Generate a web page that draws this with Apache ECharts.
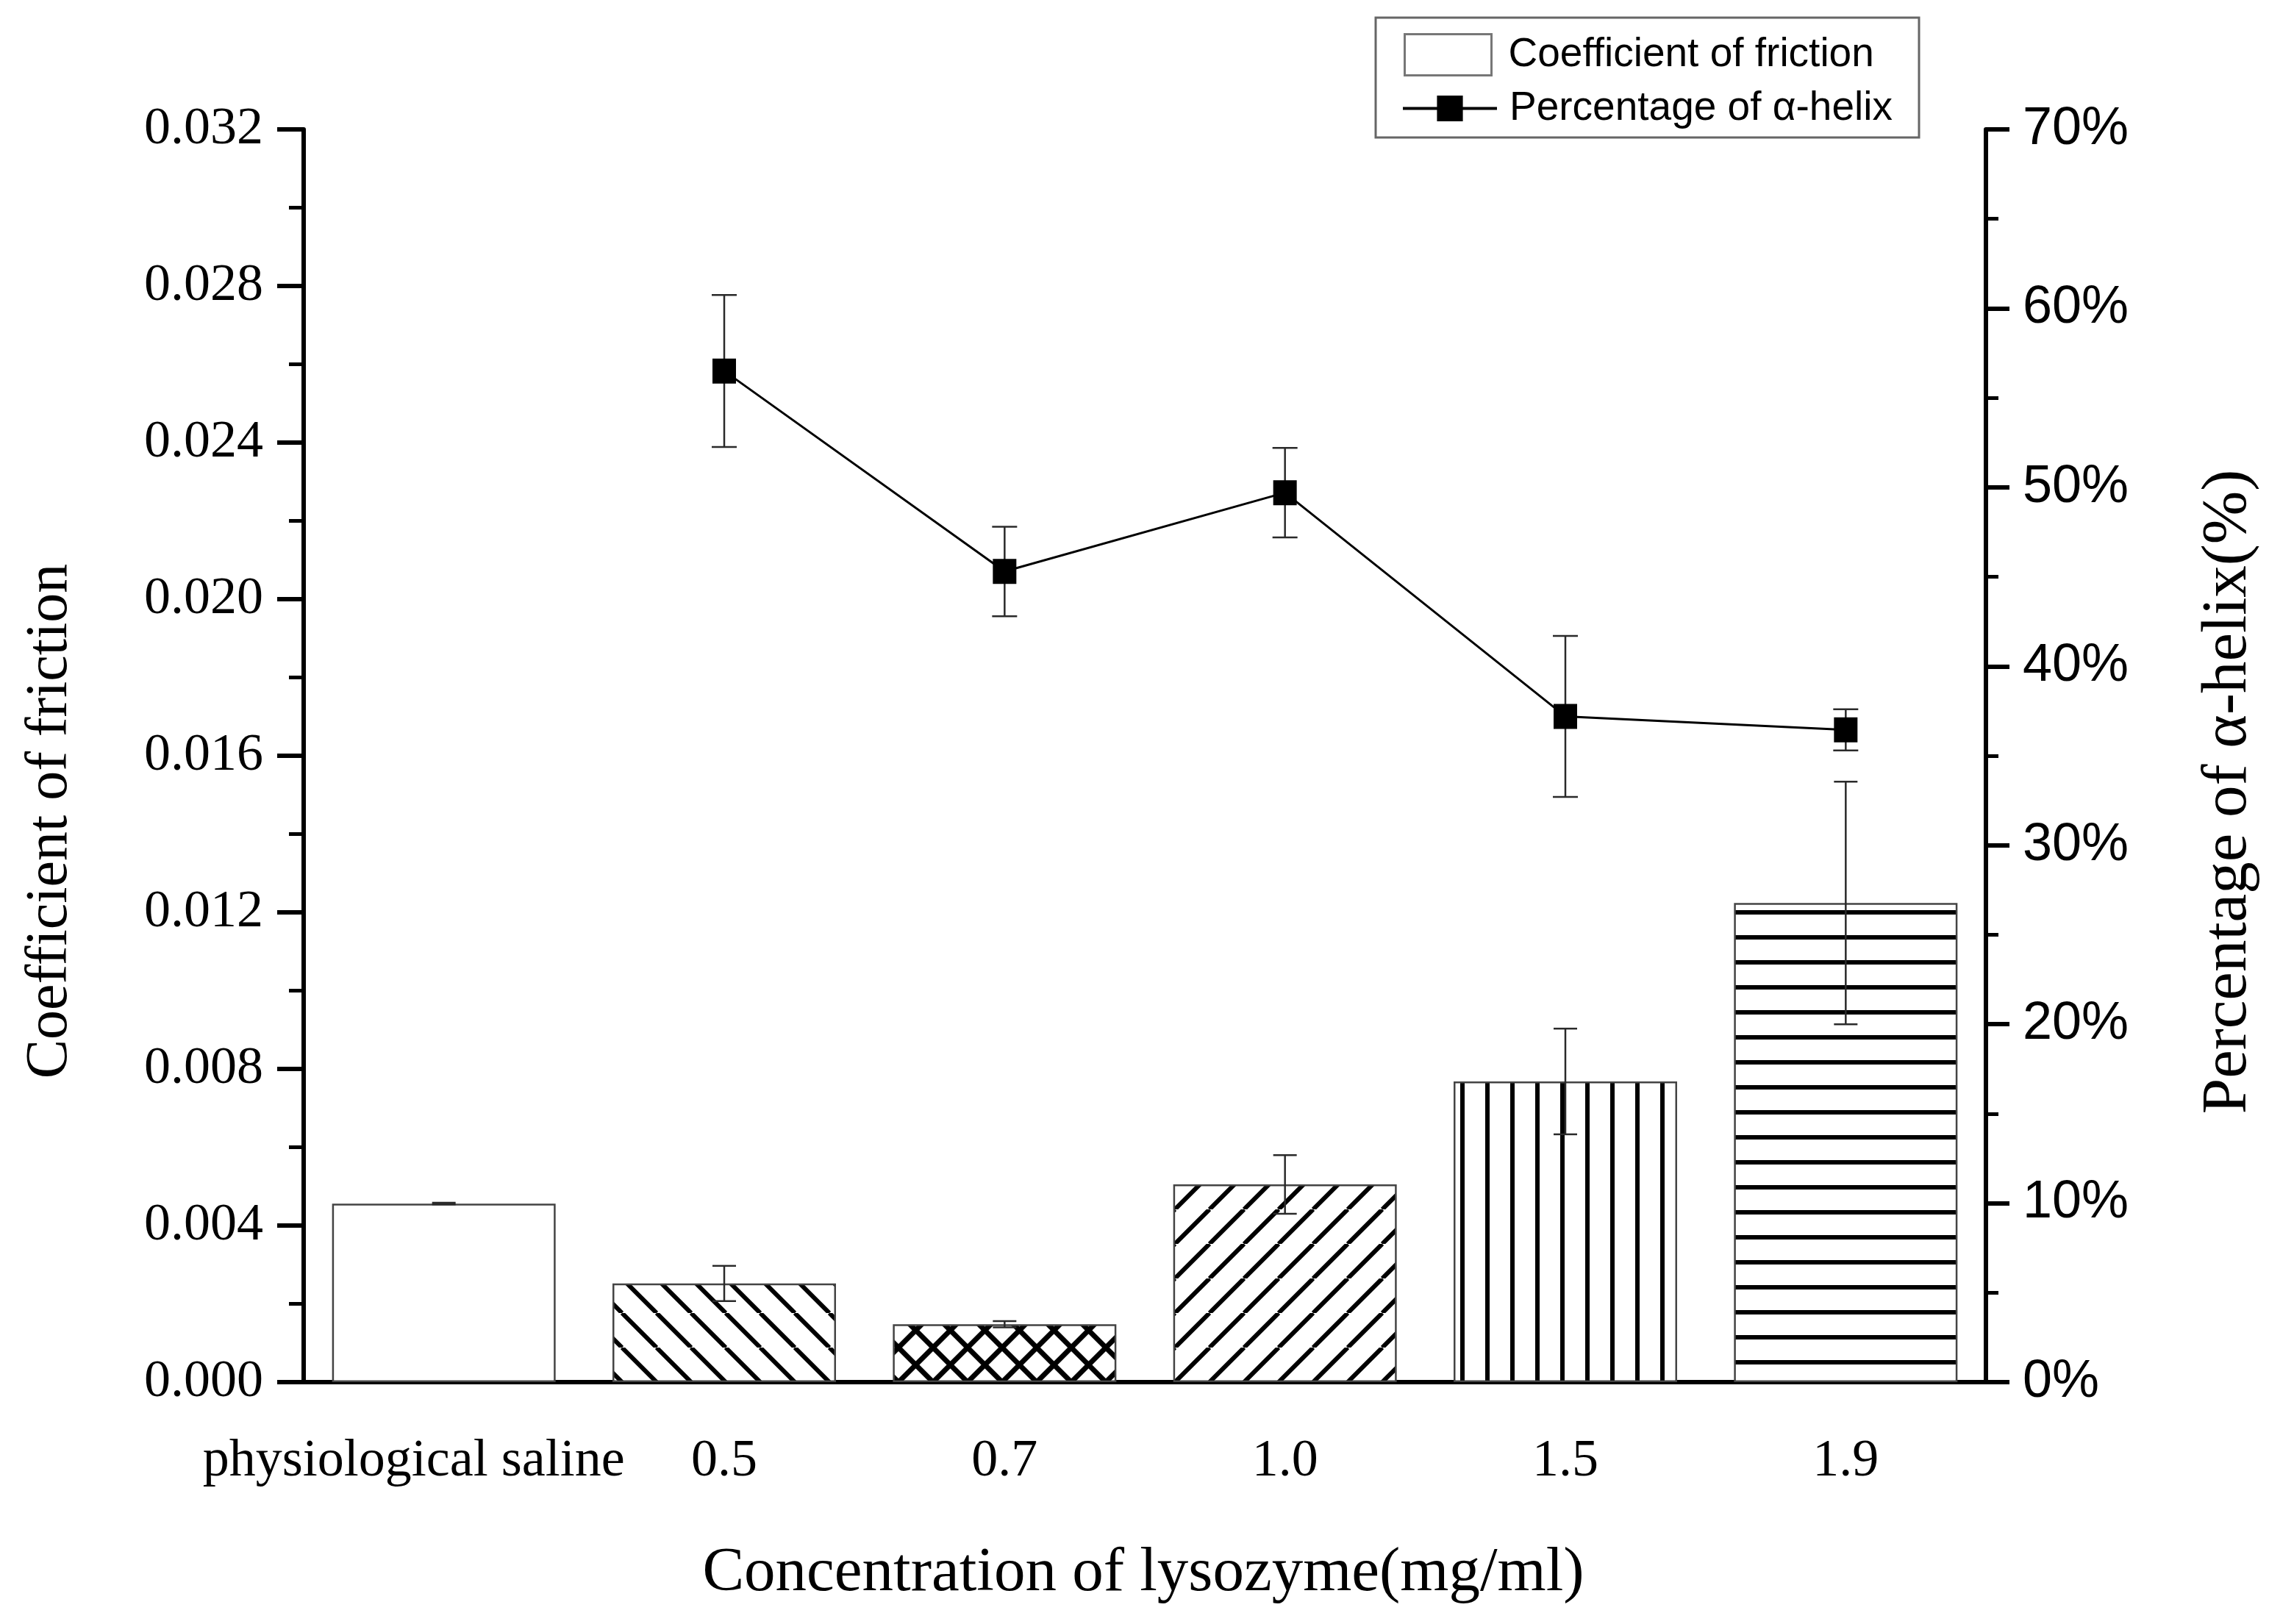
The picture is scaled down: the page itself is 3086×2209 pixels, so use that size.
<!DOCTYPE html>
<html lang="en">
<head>
<meta charset="UTF-8">
<title>Coefficient of friction and α-helix</title>
<script src="https://cdn.jsdelivr.net/npm/echarts@6/dist/echarts.min.js"></script>
<style>html,body{margin:0;padding:0;background:#fff;}</style>
</head>
<body>
<div id="chart" style="width:3086px;height:2209px;"></div>
<script>
  // data
  var categories = ['physiological saline', '0.5', '0.7', '1.0', '1.5', '1.9'];
  var friction = [0.00456, 0.00252, 0.00148, 0.00505, 0.00768, 0.01224];
  var frictionErr = [0.00002, 0.00045, 0.00008, 0.00075, 0.00135, 0.0031];
  var helix = ['-', 56.5, 45.3, 49.7, 37.2, 36.45];
  var helixErr = ['-', 4.25, 2.5, 2.5, 4.5, 1.15];
  var hatchKinds = ['none', 'back', 'cross', 'fwd', 'vert', 'horiz'];

  var serif = 'Liberation Serif';
  var sans = 'Liberation Sans';

  // small canvas tiles used as bar fill patterns
  function hatch(kind) {
    if (kind == 'none') return '#fff';
    var s = kind == 'vert' || kind == 'horiz' ? 34 : 47;
    var c = document.createElement('canvas');
    c.width = s; c.height = s;
    var ctx = c.getContext('2d');
    ctx.fillStyle = '#fff';
    ctx.fillRect(0, 0, s, s);
    ctx.strokeStyle = '#000';
    ctx.lineWidth = kind == 'cross' ? 7 : 6;
    ctx.beginPath();
    for (var k = -1; k <= 1; k++) {
      if (kind == 'fwd' || kind == 'cross') {
        ctx.moveTo(k * s, s); ctx.lineTo(k * s + s, 0);
      }
      if (kind == 'back' || kind == 'cross') {
        ctx.moveTo(k * s, 0); ctx.lineTo(k * s + s, s);
      }
    }
    if (kind == 'vert') { ctx.moveTo(s / 2, 0); ctx.lineTo(s / 2, s); }
    if (kind == 'horiz') { ctx.moveTo(0, s / 2); ctx.lineTo(s, s / 2); }
    ctx.stroke();
    return { image: c, repeat: 'repeat' };
  }

  function errorBars(width) {
    return function (params, api) {
      var x = api.value(0);
      var lo = api.coord([x, api.value(1)]);
      var hi = api.coord([x, api.value(2)]);
      var style = { stroke: '#2a2a2a', lineWidth: 2.5 };
      return {
        type: 'group',
        children: [
          { type: 'line', shape: { x1: hi[0], y1: hi[1], x2: lo[0], y2: lo[1] }, style: style },
          { type: 'line', shape: { x1: hi[0] - width, y1: hi[1], x2: hi[0] + width, y2: hi[1] }, style: style },
          { type: 'line', shape: { x1: lo[0] - width, y1: lo[1], x2: lo[0] + width, y2: lo[1] }, style: style }
        ]
      };
    };
  }

  var barData = friction.map(function (v, i) {
    return { value: v, itemStyle: { color: hatch(hatchKinds[i]) } };
  });
  var barErrData = friction.map(function (v, i) {
    return [i, v - frictionErr[i], v + frictionErr[i]];
  });
  var lineErrData = [];
  helix.forEach(function (v, i) {
    if (v != '-') lineErrData.push([i, v - helixErr[i], v + helixErr[i]]);
  });
  // the first label sits a little left of its tick in the original
  var xLabels = categories.map(function (c, i) {
    return i == 0 ? { value: c, textStyle: { padding: [0, 82, 0, 0] } } : c;
  });

  var chart = echarts.init(document.getElementById('chart'));
  var option = {
    backgroundColor: '#fff',
    animation: false,
    grid: { left: 413, right: 385, top: 176, bottom: 329, containLabel: false },
    legend: [{
      data: [{ name: 'Coefficient of friction', icon: 'rect' }],
      left: 1909, top: 45, padding: 0,
      itemWidth: 118, itemHeight: 56,
      itemStyle: { borderColor: '#777', borderWidth: 3 },
      textStyle: { fontFamily: sans, fontSize: 55, color: '#000', padding: [0, 0, 0, 18] }
    }, {
      data: ['Percentage of α-helix'],
      left: 1906, top: 120, padding: 0,
      itemWidth: 128, itemHeight: 44,
      lineStyle: { width: 4 },
      textStyle: { fontFamily: sans, fontSize: 55, color: '#000', padding: [0, 0, 0, 12] }
    }],
    xAxis: {
      type: 'category',
      data: xLabels,
      axisLine: { lineStyle: { color: '#000', width: 6 } },
      axisTick: { alignWithLabel: true, length: 24, lineStyle: { color: '#000', width: 3 } },
      axisLabel: { fontFamily: serif, fontSize: 72, color: '#000', margin: 72, interval: 0 },
      splitLine: { show: false }
    },
    yAxis: [{
      type: 'value',
      min: 0, max: 0.032, interval: 0.004,
      axisLine: { show: true, lineStyle: { color: '#000', width: 6 } },
      axisTick: { show: true, length: 36, lineStyle: { color: '#000', width: 6 } },
      minorTick: { show: true, splitNumber: 2, length: 20, lineStyle: { color: '#000', width: 5 } },
      axisLabel: {
        fontFamily: serif, fontSize: 72, color: '#000', margin: 55,
        formatter: function (v) { return v.toFixed(3); }
      },
      splitLine: { show: false }
    }, {
      type: 'value',
      min: 0, max: 70, interval: 10,
      position: 'right',
      axisLine: { show: true, lineStyle: { color: '#000', width: 6 } },
      axisTick: { show: true, length: 32, lineStyle: { color: '#000', width: 6 } },
      minorTick: { show: true, splitNumber: 2, length: 17, lineStyle: { color: '#000', width: 5 } },
      axisLabel: { fontFamily: sans, fontSize: 72, color: '#000', margin: 50, formatter: '{value}%' },
      splitLine: { show: false }
    }],
    series: [{
      name: 'Coefficient of friction',
      type: 'bar',
      barWidth: 304,
      data: barData,
      itemStyle: { color: '#fff', borderColor: '#444', borderWidth: 2.5 },
      z: 2
    }, {
      type: 'custom',
      renderItem: errorBars(16),
      data: barErrData,
      encode: { x: 0, y: [1, 2] },
      z: 3
    }, {
      name: 'Percentage of α-helix',
      type: 'line',
      yAxisIndex: 1,
      data: helix,
      symbol: 'rect',
      symbolSize: [32, 34],
      itemStyle: { color: '#000' },
      lineStyle: { color: '#000', width: 3 },
      z: 5
    }, {
      type: 'custom',
      yAxisIndex: 1,
      renderItem: errorBars(17),
      data: lineErrData,
      encode: { x: 0, y: [1, 2] },
      z: 4
    }],
    graphic: [{
      type: 'rect',
      shape: { x: 1871, y: 24, width: 739, height: 163 },
      style: { fill: 'none', stroke: '#666', lineWidth: 3 },
      z: -1
    }, {
      type: 'text',
      x: 69, y: 1117, rotation: Math.PI / 2,
      style: { text: 'Coefficient of friction', font: '80px "Liberation Serif"', fill: '#000', textAlign: 'center', textVerticalAlign: 'middle' }
    }, {
      type: 'text',
      x: 3031, y: 1077, rotation: Math.PI / 2,
      style: { text: 'Percentage of α-helix(%)', font: '87px "Liberation Serif"', fill: '#000', textAlign: 'center', textVerticalAlign: 'middle' }
    }, {
      type: 'text',
      x: 1555, y: 2141,
      style: { text: 'Concentration of lysozyme(mg/ml)', font: '85px "Liberation Serif"', fill: '#000', textAlign: 'center', textVerticalAlign: 'middle' }
    }]
  };
  chart.setOption(option);
</script>
</body>
</html>
